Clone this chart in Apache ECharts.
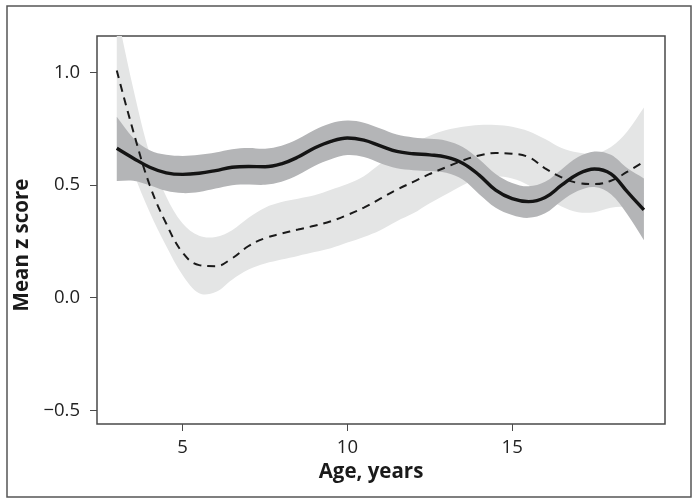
<!DOCTYPE html>
<html>
<head>
<meta charset="utf-8">
<script src="https://cdn.jsdelivr.net/npm/echarts@6/dist/echarts.min.js"></script>
<style>
  html, body { margin: 0; padding: 0; background: #fff; }
  #chart { width: 699px; height: 504px; }
</style>
</head>
<body>
<div id="chart"></div>
<script>
const ages = [3, 3.5, 4, 4.5, 5, 5.5, 6, 6.5, 7, 7.5, 8, 8.5, 9, 9.5, 10, 10.5,
  11, 11.5, 12, 12.5, 13, 13.5, 14, 14.5, 15, 15.5, 16, 16.5, 17, 17.5, 18, 18.5, 19];

// solid curve and its dark band
const solidMean = [0.664, 0.62, 0.58, 0.555, 0.548, 0.553, 0.565, 0.58, 0.583, 0.582, 0.595, 0.625,
  0.665, 0.695, 0.71, 0.70, 0.675, 0.65, 0.64, 0.635, 0.625, 0.598, 0.545, 0.478, 0.44, 0.427,
  0.445, 0.50, 0.55, 0.572, 0.55, 0.47, 0.39];
const solidLow = [0.519, 0.52, 0.50, 0.475, 0.465, 0.47, 0.485, 0.50, 0.503, 0.502, 0.515, 0.545,
  0.585, 0.615, 0.634, 0.625, 0.598, 0.575, 0.567, 0.563, 0.555, 0.525, 0.46, 0.40, 0.368, 0.355,
  0.375, 0.43, 0.475, 0.492, 0.46, 0.37, 0.256];
const solidHigh = [0.804, 0.71, 0.655, 0.635, 0.63, 0.635, 0.645, 0.66, 0.665, 0.662, 0.675, 0.705,
  0.745, 0.775, 0.787, 0.778, 0.752, 0.725, 0.712, 0.706, 0.698, 0.67, 0.615, 0.55, 0.51, 0.495,
  0.515, 0.57, 0.625, 0.65, 0.635, 0.575, 0.53];

// dashed curve and its light band
const dashedMean = [1.01, 0.74, 0.50, 0.33, 0.20, 0.145, 0.14, 0.175, 0.23, 0.265, 0.285, 0.303,
  0.32, 0.34, 0.368, 0.40, 0.44, 0.48, 0.515, 0.55, 0.58, 0.61, 0.632, 0.643, 0.64, 0.625,
  0.575, 0.535, 0.51, 0.505, 0.52, 0.56, 0.605];
const dashedLow = [0.78, 0.56, 0.38, 0.23, 0.10, 0.02, 0.025, 0.08, 0.125, 0.152, 0.17, 0.186,
  0.203, 0.22, 0.245, 0.27, 0.30, 0.34, 0.375, 0.42, 0.46, 0.50, 0.53, 0.54, 0.53, 0.50,
  0.45, 0.405, 0.38, 0.38, 0.40, 0.40, 0.36];
const dashedHigh = [1.27, 0.93, 0.64, 0.45, 0.33, 0.275, 0.27, 0.30, 0.355, 0.40, 0.425, 0.44,
  0.455, 0.48, 0.505, 0.54, 0.595, 0.645, 0.685, 0.72, 0.745, 0.76, 0.768, 0.768, 0.76, 0.74,
  0.705, 0.665, 0.645, 0.64, 0.67, 0.74, 0.845];

const xTicks = [5, 10, 15];
const yTicks = [-0.5, 0, 0.5, 1.0];

const pairs = ys => ages.map((a, i) => [a, ys[i]]);

const chart = echarts.init(document.getElementById('chart'));

const fontFam = '"Open Sans", "DejaVu Sans", sans-serif';

// confidence band as one filled polygon: upper edge left->right, lower edge back.
// end points are doubled so the smoothed outline keeps straight vertical ends
function band(lo, hi, color, z) {
  return {
    type: 'custom', silent: true, clip: true, z: z,
    data: [0],
    renderItem: (params, api) => {
      const top = ages.map((a, i) => api.coord([a, hi[i]]));
      const bot = ages.map((a, i) => api.coord([a, lo[i]])).reverse();
      const dup = arr => [arr[0]].concat(arr, [arr[arr.length - 1]]);
      return {
        type: 'polygon',
        shape: {points: dup(top).concat(dup(bot)), smooth: 0.35},
        style: {fill: color, stroke: null}
      };
    }
  };
}

const option = {
  animation: false,
  grid: {
    left: 97, right: 34, top: 36, bottom: 80,
    show: true, borderColor: '#4a4a4a', borderWidth: 1.5, backgroundColor: 'transparent'
  },
  xAxis: {
    type: 'value', min: 2.4, max: 19.64,
    name: 'Age, years', nameLocation: 'middle', nameGap: 38,
    nameTextStyle: {fontFamily: fontFam, fontWeight: 'bold', fontSize: 20.5, color: '#1a1a1a', padding: [0, 20, 0, 0]},
    axisLine: {show: false, onZero: false},
    axisTick: {show: true, length: 7, customValues: xTicks, lineStyle: {color: '#4a4a4a', width: 1}},
    axisLabel: {customValues: xTicks, fontFamily: fontFam, fontSize: 18.5, color: '#222', margin: 14},
    splitLine: {show: false}
  },
  yAxis: {
    type: 'value', min: -0.561, max: 1.163,
    name: 'Mean z score', nameLocation: 'middle', nameGap: 61, nameRotate: 90,
    nameTextStyle: {fontFamily: fontFam, fontWeight: 'bold', fontSize: 20.5, color: '#1a1a1a', padding: [0, 30, 0, 0]},
    axisLine: {show: false, onZero: false},
    axisTick: {show: true, length: 7, customValues: yTicks, lineStyle: {color: '#4a4a4a', width: 1}},
    axisLabel: {
      customValues: yTicks, fontFamily: fontFam, fontSize: 18.5, color: '#222', margin: 17,
      formatter: v => (v < 0 ? '\u2212' : '') + Math.abs(v).toFixed(1)
    },
    splitLine: {show: false}
  },
  graphic: [{
    type: 'rect', shape: {x: 7, y: 6, width: 684, height: 491},
    style: {fill: 'none', stroke: '#555', lineWidth: 1.5}, z: 100
  }],
  series: [
    band(dashedLow, dashedHigh, '#e4e5e5', 1),
    band(solidLow, solidHigh, '#b4b5b7', 2),
    {
      type: 'line', data: pairs(dashedMean), smooth: 0.4, symbol: 'none', z: 3,
      lineStyle: {color: '#1a1a1a', width: 2, type: [8, 6]}
    },
    {
      type: 'line', data: pairs(solidMean), smooth: 0.4, symbol: 'none', z: 4,
      lineStyle: {color: '#141414', width: 3.4}
    }
  ]
};

chart.setOption(option);
</script>
</body>
</html>
